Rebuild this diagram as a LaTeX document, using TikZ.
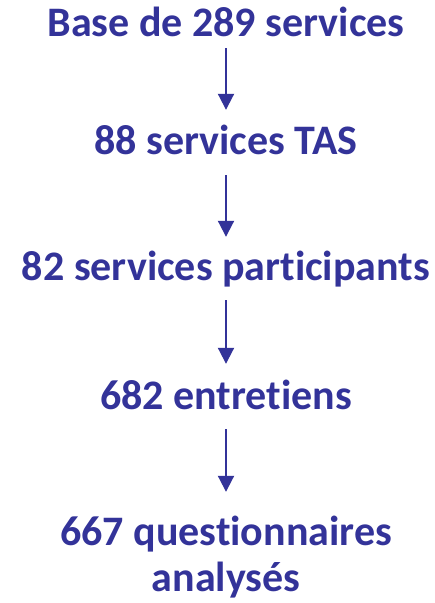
\documentclass[tikz,border=0pt]{standalone}
\usepackage{fontspec}
\setmainfont[Ligatures=NoCommon]{Carlito}
\usetikzlibrary{arrows.meta}
\definecolor{flowblue}{HTML}{333399}
\begin{document}
\begin{tikzpicture}[x=1pt,y=-1pt,
  stage/.style={font=\bfseries\fontsize{42}{50}\selectfont, text=flowblue,
    inner sep=0pt, text height=29pt, text depth=8pt, anchor=base},
  flow/.style={draw=flowblue, line width=2pt,
    -{Triangle[length=16pt,width=16pt]}}]
  \useasboundingbox (0,0) rectangle (435,603);
  \node[stage] (s1) at (226,36) {Base de 289 services};
  \node[stage] (s2) at (226,154) {88 services TAS};
  \node[stage] (s3) at (226,280) {82 services participants};
  \node[stage] (s4) at (226,409) {682 entretiens};
  \node[stage] (s5) at (226,545) {667 questionnaires};
  \node[stage, text depth=7pt] (s5b) at (226,591) {analysés};
  \draw[flow, shorten <=4pt, shorten >=15pt] (s1) -- (s2);
  \draw[flow, shorten <=13pt, shorten >=14pt] (s2) -- (s3);
  \draw[flow, shorten <=12pt, shorten >=16pt] (s3) -- (s4);
  \draw[flow, shorten <=12pt, shorten >=24pt] (s4) -- (s5);
\end{tikzpicture}
\end{document}
